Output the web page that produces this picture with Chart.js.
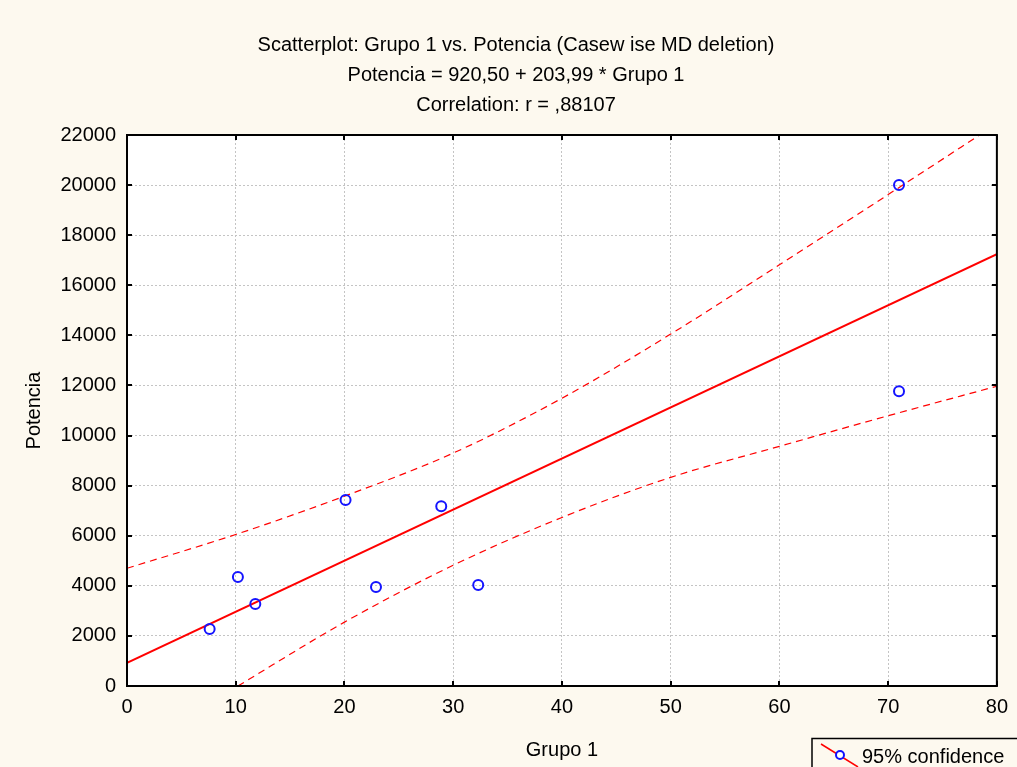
<!DOCTYPE html>
<html lang="en">
<head>
<meta charset="UTF-8">
<title>Scatterplot: Grupo 1 vs. Potencia</title>
<script src="https://cdn.jsdelivr.net/npm/chart.js"></script>
<style>
  html, body { margin: 0; padding: 0; background: #fdf9ef; }
  canvas { display: block; }
</style>
</head>
<body>
<canvas id="myChart1" width="1017" height="767"></canvas>
<script>
// observed cases
const grupo1   = [7.6, 10.2, 11.8, 20.1, 22.9, 28.9, 32.3, 71.0, 71.0];
const potencia = [2280, 4350, 3270, 7430, 3950, 7180, 4030, 20000, 11770];

// fitted line: Potencia = 920,50 + 203,99 * Grupo 1
const fitX = [0, 80];
const fitY = [920.5, 17239.7];

// 95% confidence bands
const upperX = [0, 10, 20, 30, 40, 50, 60, 70, 80];
const upperY = [4700, 6050, 7580, 9300, 11490, 14050, 16820, 19620, 22450];
const lowerX = [10.2, 20, 30, 40, 50, 60, 70, 80];
const lowerY = [0, 2550, 4820, 6730, 8330, 9570, 10790, 11970];

// axes
const xTicks = [0, 10, 20, 30, 40, 50, 60, 70, 80];
const yTicks = [0, 2000, 4000, 6000, 8000, 10000, 12000, 14000, 16000, 18000, 20000, 22000];

const titleLines = [
    "Scatterplot: Grupo 1 vs. Potencia (Casew ise MD deletion)",
    "Potencia = 920,50 + 203,99 * Grupo 1",
    "Correlation: r = ,88107"
];
const legendText = "95% confidence";

const FONT = "'Liberation Sans', Arial, sans-serif";
const FS = 20;
const pairs = (xs, ys) => xs.map((x, i) => ({ x: x, y: ys[i] }));

// white plot area
const plotBg = {
    id: "plotBg",
    beforeDraw(chart) {
        const a = chart.chartArea, c = chart.ctx;
        c.save();
        c.fillStyle = "#ffffff";
        c.fillRect(a.left, a.top, a.right - a.left, a.bottom - a.top);
        c.restore();
    }
};

// black frame with small inward ticks on every side
const frame = {
    id: "frame",
    afterDraw(chart) {
        const a = chart.chartArea, c = chart.ctx;
        const xs = chart.scales.x, ys = chart.scales.y;
        c.save();
        c.strokeStyle = "#000";
        c.lineWidth = 2;
        c.strokeRect(a.left, a.top, a.right - a.left, a.bottom - a.top);
        c.beginPath();
        xTicks.forEach((v) => {
            const px = Math.round(xs.getPixelForValue(v));
            c.moveTo(px, a.bottom); c.lineTo(px, a.bottom - 5);
            c.moveTo(px, a.top); c.lineTo(px, a.top + 5);
        });
        yTicks.forEach((v) => {
            const py = Math.round(ys.getPixelForValue(v));
            c.moveTo(a.left, py); c.lineTo(a.left + 5, py);
            c.moveTo(a.right, py); c.lineTo(a.right - 5, py);
        });
        c.stroke();
        c.restore();
    }
};

// legend box in the lower right corner
const legendBox = {
    id: "legendBox",
    afterDraw(chart) {
        const c = chart.ctx;
        c.save();
        c.strokeStyle = "#000";
        c.lineWidth = 1.5;
        c.strokeRect(812, 738.5, 230, 60);
        c.strokeStyle = "#ff0000";
        c.lineWidth = 1.5;
        c.beginPath();
        c.moveTo(821, 744); c.lineTo(858, 767);
        c.stroke();
        c.fillStyle = "#ffffff";
        c.strokeStyle = "#1010ff";
        c.lineWidth = 2;
        c.beginPath();
        c.arc(840, 755, 4, 0, Math.PI * 2);
        c.fill(); c.stroke();
        c.fillStyle = "#000";
        c.font = FS + "px " + FONT;
        c.textBaseline = "middle";
        c.fillText(legendText, 862, 757);
        c.restore();
    }
};

const ctx = document.getElementById("myChart1");
new Chart(ctx, {
    type: "scatter",
    data: {
        datasets: [
            {
                label: "Potencia",
                data: pairs(grupo1, potencia),
                pointRadius: 5,
                pointBorderWidth: 2,
                pointBorderColor: "#1414ff",
                pointBackgroundColor: "rgba(255,255,255,0)",
                order: 0
            },
            {
                type: "line",
                label: "fit",
                data: pairs(fitX, fitY),
                borderColor: "#ff0000",
                borderWidth: 2,
                pointRadius: 0,
                order: 1
            },
            {
                type: "line",
                label: "upper 95%",
                data: pairs(upperX, upperY),
                borderColor: "#ff0000",
                borderWidth: 1.2,
                borderDash: [7, 5],
                cubicInterpolationMode: "monotone",
                pointRadius: 0,
                order: 2
            },
            {
                type: "line",
                label: "lower 95%",
                data: pairs(lowerX, lowerY),
                borderColor: "#ff0000",
                borderWidth: 1.2,
                borderDash: [7, 5],
                cubicInterpolationMode: "monotone",
                pointRadius: 0,
                order: 2
            }
        ]
    },
    options: {
        responsive: false,
        animation: false,
        layout: { padding: { left: 30, right: 15, top: 0, bottom: 0 } },
        plugins: {
            legend: { display: false },
            tooltip: { enabled: false },
            title: {
                display: true,
                text: titleLines,
                color: "#000",
                font: { family: FONT, size: FS, weight: "normal", lineHeight: 1.5 },
                padding: { top: 30, bottom: 15 }
            }
        },
        scales: {
            x: {
                type: "linear",
                min: xTicks[0],
                max: xTicks[xTicks.length - 1],
                afterBuildTicks: (s) => { s.ticks = xTicks.map((v) => ({ value: v })); },
                afterFit: (s) => { s.height = 81; },
                ticks: { color: "#000", padding: 9, font: { family: FONT, size: FS } },
                grid: { color: "#c4c4c4", lineWidth: 1, drawTicks: false },
                border: { display: false, dash: [2, 2] },
                title: {
                    display: true,
                    text: "Grupo 1",
                    color: "#000",
                    font: { family: FONT, size: FS },
                    padding: { top: 0, bottom: 5 }
                }
            },
            y: {
                type: "linear",
                min: yTicks[0],
                max: yTicks[yTicks.length - 1],
                afterBuildTicks: (s) => { s.ticks = yTicks.map((v) => ({ value: v })); },
                afterFit: (s) => { s.width = 97; },
                ticks: {
                    color: "#000",
                    padding: 11,
                    font: { family: FONT, size: FS },
                    callback: (v) => String(v)
                },
                grid: { color: "#c4c4c4", lineWidth: 1, drawTicks: false },
                border: { display: false, dash: [2, 2] },
                title: {
                    display: true,
                    text: "Potencia",
                    color: "#000",
                    font: { family: FONT, size: FS },
                    padding: { top: -8, bottom: 0 }
                }
            }
        }
    },
    plugins: [plotBg, frame, legendBox]
});
</script>
</body>
</html>
